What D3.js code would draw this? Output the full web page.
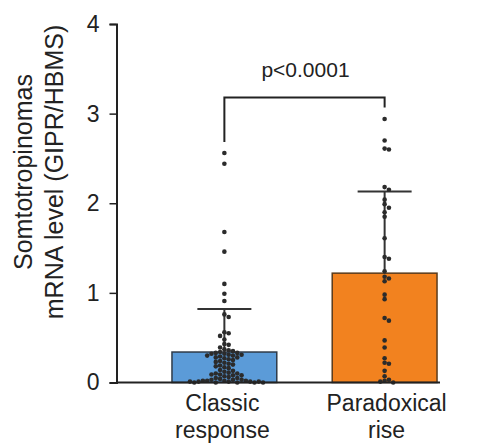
<!DOCTYPE html>
<html>
<head>
<meta charset="utf-8">
<script src="https://cdn.jsdelivr.net/npm/d3@7"></script>
<style>
  html, body { margin: 0; padding: 0; background: #fff; }
  svg { display: block; }
  text { font-family: "Liberation Sans", Arial, sans-serif; fill: #222; }
</style>
</head>
<body>
<div id="chart"></div>
<script>
// ---- data ----
const categories = ["Classic response", "Paradoxical rise"];
const categoryLines = [["Classic", "response"], ["Paradoxical", "rise"]];
const means = [0.34, 1.22];
const sds = [0.48, 0.91];
const yTicks = [0, 1, 2, 3, 4];
const pLabel = "p<0.0001";
const classicValues = [2.56, 2.44, 1.68, 1.46, 1.10, 0.99, 0.91, 0.76, 0.73, 0.56, 0.55, 0.52, 0.48,
  0.43, 0.42, 0.39, 0.37, 0.36, 0.35, 0.34, 0.33, 0.33, 0.32, 0.32, 0.31, 0.31, 0.30, 0.30, 0.29,
  0.28, 0.28, 0.27, 0.26, 0.25, 0.24, 0.23, 0.22, 0.21, 0.20, 0.19, 0.18, 0.17, 0.16, 0.14, 0.13,
  0.12, 0.11, 0.10, 0.10, 0.09, 0.09, 0.08, 0.08, 0.07, 0.06, 0.05, 0.05, 0.04, 0.03, 0.03, 0.03,
  0.02, 0.02, 0.02, 0.02, 0.01, 0.01, 0.01, 0.01, 0.01, 0.00, 0.00, 0.00, 0.00, 0.00];
const paradoxValues = [2.94, 2.70, 2.61, 2.60, 2.18, 2.15, 2.04, 1.99, 1.95, 1.90, 1.85, 1.61, 1.40,
  1.38, 1.24, 1.18, 1.16, 1.13, 0.98, 0.93, 0.72, 0.69, 0.47, 0.39, 0.27, 0.22, 0.21, 0.13, 0.07,
  0.03, 0.02, 0.01, 0.00];
const groupValues = [classicValues, paradoxValues];
const yLabelLines = ["Somtotropinomas", "mRNA level (GIPR/HBMS)"];

// ---- styles ----
const fills = ["#5b9bd8", "#f2821f"];
const strokes = ["#2f3b48", "#5a3b1c"];
const W = 485, H = 445;
const m = { left: 116.5, top: 24, bottom: 62.5 };

const svg = d3.select("#chart").append("svg").attr("width", W).attr("height", H);

const y = d3.scaleLinear().domain([0, 4]).range([H - m.bottom, m.top]);
const x = d3.scaleBand().domain(categories).range([123.9, 485.1]).paddingInner(0.346).paddingOuter(0.3);

// bars
const bw = x.bandwidth();
svg.selectAll("rect.bar").data(categories).enter().append("rect")
  .attr("x", d => x(d)).attr("width", bw)
  .attr("y", (d, i) => y(means[i])).attr("height", (d, i) => y(0) - y(means[i]))
  .attr("fill", (d, i) => fills[i]).attr("stroke", (d, i) => strokes[i]).attr("stroke-width", 1.5);

// error bars
categories.forEach((c, i) => {
  const cx = x(c) + bw / 2;
  const top = y(means[i] + sds[i]);
  svg.append("line").attr("x1", cx).attr("x2", cx).attr("y1", y(means[i])).attr("y2", top)
    .attr("stroke", "#333").attr("stroke-width", 2);
  svg.append("line").attr("x1", cx - 27).attr("x2", cx + 27).attr("y1", top).attr("y2", top)
    .attr("stroke", "#333").attr("stroke-width", 2);
});

// beeswarm dots
const r = 2.3;
categories.forEach((c, i) => {
  const cx = x(c) + bw / 2;
  const vals = groupValues[i].slice().sort((a, b) => b - a);
  const placed = [];
  const step = 4.3;
  vals.forEach(v => {
    const py = y(v);
    for (let k = 0; k < 200; k++) {
      const off = (k === 0) ? 0 : (k % 2 ? 1 : -1) * Math.ceil(k / 2) * step;
      const px = cx + off;
      const ok = placed.every(p => (p[0] - px) ** 2 + (p[1] - py) ** 2 >= (2 * r - 0.3) ** 2);
      if (ok) { placed.push([px, py]); break; }
    }
  });
  svg.append("g").selectAll("circle").data(placed).enter().append("circle")
    .attr("cx", d => d[0]).attr("cy", d => d[1]).attr("r", r).attr("fill", "#2b2b2b");
});

// axes
const yAxis = d3.axisLeft(y).tickValues(yTicks).tickSize(7).tickPadding(10).tickFormat(d3.format("d"));
const gy = svg.append("g").attr("transform", `translate(${m.left},0)`).call(yAxis);
gy.select(".domain").attr("stroke", "#222").attr("stroke-width", 2);
gy.selectAll(".tick line").attr("stroke", "#222").attr("stroke-width", 1.5);
gy.selectAll(".tick text").style("font-size", "23px").attr("fill", "#222")
  .style("font-family", "'Liberation Sans', Arial, sans-serif");

svg.append("line").attr("x1", m.left).attr("x2", 440)
  .attr("y1", y(0)).attr("y2", y(0)).attr("stroke", "#222").attr("stroke-width", 2);

// x labels
categories.forEach((c, i) => {
  const cx = x(c) + bw / 2;
  const t = svg.append("text").attr("text-anchor", "middle").style("font-size", "23px");
  categoryLines[i].forEach((ln, j) => {
    t.append("tspan").attr("x", cx + (i === 1 ? 2 : -2)).attr("y", 411 + j * 27).text(ln);
  });
});

// y label
const yl = svg.append("text").attr("transform", "translate(0,172) rotate(-90)")
  .attr("text-anchor", "middle").style("font-size", "25px");
yLabelLines.forEach((ln, j) => {
  yl.append("tspan").attr("x", 0).attr("y", 32 + j * 31).text(ln);
});

// significance bracket
const c0 = x(categories[0]) + bw / 2, c1 = x(categories[1]) + bw / 2;
const by = 97.5;
svg.append("path")
  .attr("d", `M${c0},${y(classicValues[0]) - 11}V${by}H${c1}V${by + 10}`)
  .attr("fill", "none").attr("stroke", "#222").attr("stroke-width", 2);
svg.append("text").attr("x", (c0 + c1) / 2 + 1).attr("y", 77).attr("text-anchor", "middle")
  .style("font-size", "21px").text(pLabel);
</script>
</body>
</html>
